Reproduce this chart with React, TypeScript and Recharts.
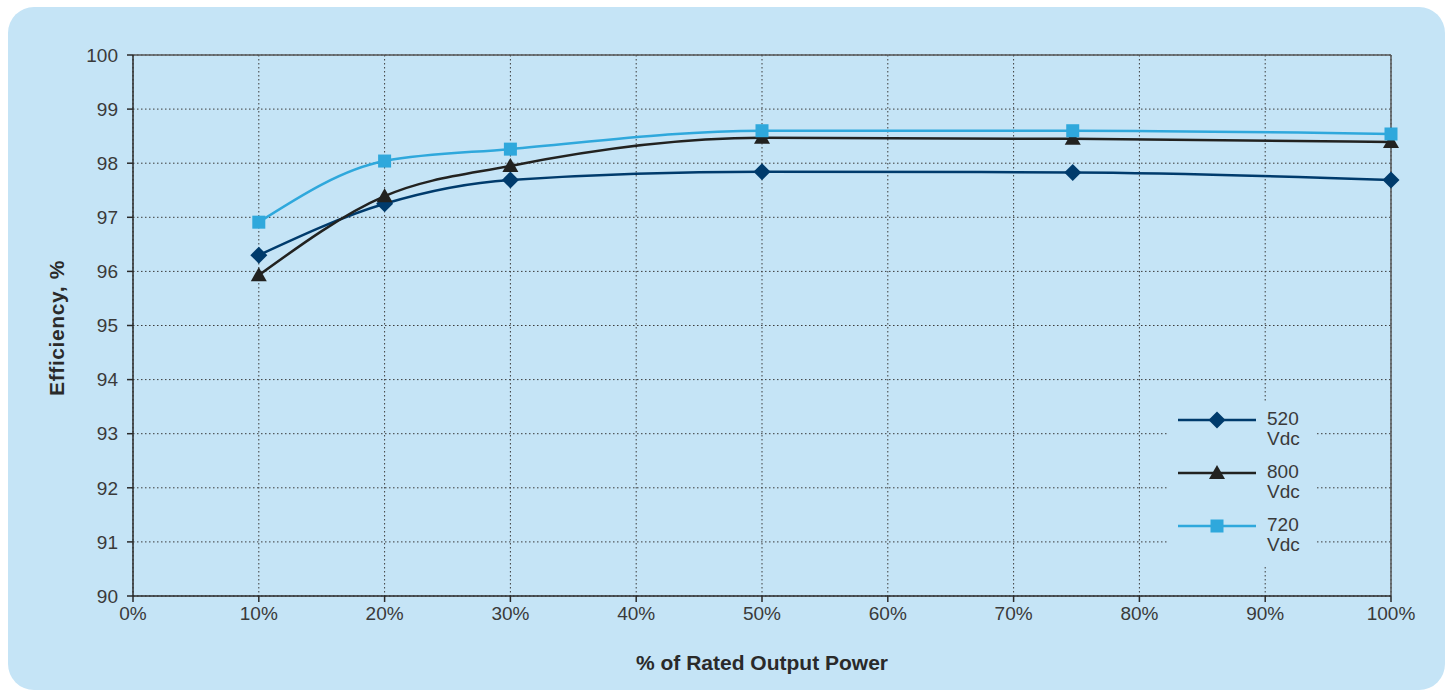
import { LineChart, Line, XAxis, YAxis, CartesianGrid, ReferenceLine } from 'recharts';

// % of rated output power
const loadPoints = [10, 20, 30, 50, 74.7, 100];
const eff520 = [96.3, 97.25, 97.69, 97.84, 97.83, 97.69];
const eff800 = [95.93, 97.39, 97.95, 98.47, 98.45, 98.39];
const eff720 = [96.91, 98.04, 98.26, 98.6, 98.6, 98.54];

const xTicks = [0, 10, 20, 30, 40, 50, 60, 70, 80, 90, 100];
const yTicks = [90, 91, 92, 93, 94, 95, 96, 97, 98, 99, 100];

const seriesNames = ['520 Vdc', '800 Vdc', '720 Vdc'];

const palette = {
  bg: '#c5e4f6',
  text: '#3a3a3a',
  axis: '#2a2a2a',
  grid: '#3c3c3c',
  navy: '#003b6c',
  black: '#222220',
  sky: '#2fa8dc',
};

const font = '"Liberation Sans", Arial, sans-serif';

const data = loadPoints.map((x, i) => ({
  load: x,
  v520: eff520[i],
  v800: eff800[i],
  v720: eff720[i],
}));

const Diamond = ({ cx, cy, fill, size = 8.5 }: any) => {
  if (cx == null || cy == null) return null;
  return (
    <polygon
      points={`${cx},${cy - size} ${cx + size},${cy} ${cx},${cy + size} ${cx - size},${cy}`}
      fill={fill}
    />
  );
};

const Triangle = ({ cx, cy, fill, size = 8 }: any) => {
  if (cx == null || cy == null) return null;
  return (
    <polygon
      points={`${cx},${cy - size} ${cx + size},${cy + size * 0.75} ${cx - size},${cy + size * 0.75}`}
      fill={fill}
    />
  );
};

const Square = ({ cx, cy, fill, size = 6.5 }: any) => {
  if (cx == null || cy == null) return null;
  return <rect x={cx - size} y={cy - size} width={size * 2} height={size * 2} fill={fill} />;
};

const legendItems = [
  { name: seriesNames[0], color: palette.navy, Marker: Diamond },
  { name: seriesNames[1], color: palette.black, Marker: Triangle },
  { name: seriesNames[2], color: palette.sky, Marker: Square },
];

const LegendBox = () => (
  <div
    style={{
      position: 'absolute',
      left: 1167,
      top: 402,
      background: palette.bg,
      width: 150,
      height: 165,
      boxSizing: 'border-box',
      paddingTop: 3,
      fontFamily: font,
    }}
  >
    {legendItems.map(({ name, color, Marker }) => {
      const [num, unit] = name.split(' ');
      return (
        <div key={name} style={{ display: 'flex', alignItems: 'flex-start', height: 53 }}>
          <svg width={100} height={36} style={{ flex: 'none' }}>
            <line x1={11} x2={89} y1={15} y2={15} stroke={color} strokeWidth={2.5} />
            <Marker cx={50} cy={15} fill={color} />
          </svg>
          <div style={{ color: palette.text, fontSize: 19, lineHeight: '20px', marginTop: 4 }}>
            <div>{num}</div>
            <div>{unit}</div>
          </div>
        </div>
      );
    })}
  </div>
);

export default function App() {
  return (
    <div style={{ position: 'absolute', left: 0, top: 0, width: 1448, height: 692, background: '#ffffff' }}>
      <div
        style={{
          position: 'absolute',
          left: 8,
          top: 7,
          width: 1437,
          height: 683,
          background: palette.bg,
          borderRadius: 26,
        }}
      />
      <div style={{ position: 'absolute', left: 0, top: 0 }}>
        <LineChart
          width={1448}
          height={692}
          data={data}
          margin={{ top: 55, right: 57, bottom: 66, left: 73 }}
          style={{ fontFamily: font }}
        >
          <CartesianGrid stroke={palette.grid} strokeDasharray="1.5 2.5" strokeWidth={1} />
          <XAxis
            dataKey="load"
            type="number"
            domain={[0, 100]}
            ticks={xTicks}
            tickFormatter={(v) => `${v}%`}
            stroke={palette.axis}
            strokeWidth={1.5}
            tickSize={6}
            tickMargin={5}
            height={30}
            interval={0}
            tick={{ fill: palette.text, fontSize: 19 }}
            label={{
              content: () => (
                <text
                  x={762}
                  y={670}
                  textAnchor="middle"
                  fontSize={21}
                  fontWeight="bold"
                  fill={palette.axis}
                  fontFamily={font}
                >
                  % of Rated Output Power
                </text>
              ),
            }}
          />
          <YAxis
            type="number"
            domain={[90, 100]}
            ticks={yTicks}
            stroke={palette.axis}
            strokeWidth={1.5}
            tickSize={6}
            tickMargin={9}
            width={60}
            interval={0}
            tick={{ fill: palette.text, fontSize: 19 }}
            label={{
              content: () => (
                <text
                  x={64}
                  y={328}
                  textAnchor="middle"
                  fontSize={21}
                  fontWeight="bold"
                  letterSpacing={0.6}
                  fill={palette.axis}
                  fontFamily={font}
                  transform="rotate(-90 64 328)"
                >
                  Efficiency, %
                </text>
              ),
            }}
          />
          <ReferenceLine y={100} stroke="#555" strokeWidth={1.5} ifOverflow="visible" />
          <ReferenceLine x={100} stroke="#555" strokeWidth={1.5} ifOverflow="visible" />
          <Line
            type="monotone"
            dataKey="v520"
            name={seriesNames[0]}
            stroke={palette.navy}
            strokeWidth={2.5}
            dot={(p: any) => <Diamond key={`d-${p.index}`} cx={p.cx} cy={p.cy} fill={palette.navy} />}
            activeDot={false}
            isAnimationActive={false}
          />
          <Line
            type="monotone"
            dataKey="v800"
            name={seriesNames[1]}
            stroke={palette.black}
            strokeWidth={2.5}
            dot={(p: any) => <Triangle key={`t-${p.index}`} cx={p.cx} cy={p.cy} fill={palette.black} />}
            activeDot={false}
            isAnimationActive={false}
          />
          <Line
            type="monotone"
            dataKey="v720"
            name={seriesNames[2]}
            stroke={palette.sky}
            strokeWidth={2.5}
            dot={(p: any) => <Square key={`s-${p.index}`} cx={p.cx} cy={p.cy} fill={palette.sky} />}
            activeDot={false}
            isAnimationActive={false}
          />
        </LineChart>
      </div>
      <LegendBox />
    </div>
  );
}
